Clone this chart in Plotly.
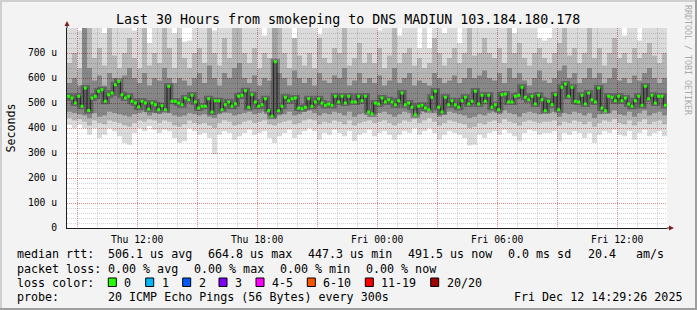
import plotly.graph_objects as go
from datetime import datetime, timedelta

W, H = 697, 310
L, R, T, B = 67, 667, 28, 228


def px(x):
    return (x - L) / (R - L)


def py(y):
    return (B - y) / (B - T)


START = datetime(2025, 12, 11, 8, 29, 26)
END = START + timedelta(hours=30)

# median rtt in microseconds, 10-minute steps (180 values)
median_us = [
    527, 520, 500, 527, 487, 560, 470, 520, 527, 547, 553, 507,
    533, 540, 573, 587, 533, 520, 527, 507, 500, 484, 507, 500,
    475, 500, 493, 473, 489, 473, 567, 507, 507, 500, 493, 520,
    513, 531, 504, 480, 487, 487, 517, 464, 509, 509, 473, 493,
    504, 487, 497, 527, 531, 549, 483, 533, 504, 487, 493, 517,
    469, 447, 665, 469, 487, 523, 509, 517, 520, 480, 477, 483,
    517, 487, 504, 517, 500, 491, 496, 491, 527, 504, 527, 500,
    527, 504, 504, 527, 509, 527, 464, 456, 500, 496, 520, 504,
    513, 504, 493, 509, 540, 493, 500, 483, 453, 487, 491, 480,
    473, 523, 547, 483, 464, 523, 493, 509, 493, 483, 509, 523,
    496, 507, 547, 496, 531, 507, 531, 483, 493, 473, 533, 536,
    504, 504, 527, 531, 563, 523, 513, 527, 496, 531, 513, 469,
    507, 493, 533, 473, 563, 576, 527, 563, 507, 504, 531, 496,
    540, 513, 504, 560, 480, 469, 527, 523, 509, 527, 509, 520,
    496, 487, 509, 527, 491, 567, 517, 531, 500, 527, 527, 491,
]

# smoke bands (microseconds), 15-minute columns (120 values each)
smoke_max = [
    800, 800, 790, 800, 800, 800, 800, 780, 800, 800, 800, 800,
    800, 790, 800, 800, 740, 800, 800, 800, 800, 780, 760, 745,
    750, 800, 800, 800, 800, 790, 800, 800, 800, 800, 800, 800,
    800, 800, 800, 770, 800, 800, 800, 800, 800, 760, 800, 800,
    800, 800, 775, 800, 800, 800, 800, 800, 800, 800, 800, 800,
    800, 800, 790, 800, 800, 800, 770, 800, 800, 800, 720, 800,
    720, 800, 800, 780, 800, 800, 740, 800, 800, 800, 800, 800,
    800, 800, 800, 800, 800, 780, 800, 800, 800, 800, 760, 750,
    760, 800, 800, 800, 800, 800, 800, 800, 800, 800, 800, 800,
    800, 800, 800, 770, 800, 800, 750, 800, 800, 800, 800, 800,
]
smoke_min = [
    413, 400, 413, 400, 373, 400, 360, 373, 400, 387, 367, 340,
    333, 380, 400, 387, 407, 393, 380, 393, 387, 360, 340, 347,
    400, 387, 373, 380, 360, 295, 373, 387, 380, 353, 367, 380,
    393, 373, 380, 387, 360, 340, 367, 380, 393, 360, 373, 387,
    400, 387, 353, 380, 373, 393, 380, 367, 387, 347, 373, 380,
    393, 367, 380, 387, 373, 353, 373, 387, 380, 400, 373, 387,
    400, 380, 353, 373, 387, 380, 373, 360, 330, 333, 373, 360,
    380, 387, 373, 393, 380, 367, 347, 380, 393, 387, 373, 380,
    380, 387, 347, 380, 373, 387, 380, 360, 380, 340, 373, 387,
    380, 393, 373, 367, 387, 353, 380, 393, 367, 380, 387, 367,
]
smoke_hi_mid = [
    660, 700, 640, 800, 800, 680, 720, 650, 800, 690, 640, 700,
    760, 680, 640, 800, 650, 700, 660, 800, 720, 640, 800, 680,
    640, 700, 720, 660, 800, 700, 650, 760, 680, 800, 800, 700,
    660, 720, 640, 700, 680, 660, 800, 700, 640, 760, 690, 650,
    700, 640, 760, 680, 660, 720, 700, 800, 650, 680, 740, 660,
    700, 660, 720, 640, 690, 800, 660, 700, 720, 650, 680, 640,
    660, 760, 700, 650, 680, 720, 660, 700, 800, 690, 700, 760,
    700, 680, 720, 660, 800, 700, 740, 680, 650, 700, 720, 680,
    660, 700, 740, 800, 690, 720, 660, 700, 800, 680, 720, 650,
    700, 760, 680, 700, 660, 720, 680, 700, 740, 690, 660, 700,
]
smoke_lo_mid = [
    440, 430, 435, 425, 410, 430, 420, 415, 430, 425, 420, 410,
    405, 420, 430, 425, 435, 430, 420, 430, 425, 410, 405, 415,
    430, 420, 415, 420, 410, 400, 420, 430, 425, 410, 415, 425,
    430, 420, 425, 430, 415, 410, 420, 425, 430, 415, 420, 430,
    435, 430, 415, 425, 420, 430, 425, 415, 430, 410, 420, 425,
    430, 420, 425, 430, 420, 410, 420, 430, 425, 435, 420, 430,
    440, 425, 410, 420, 430, 425, 420, 415, 400, 405, 420, 415,
    425, 430, 420, 435, 425, 420, 410, 425, 430, 425, 420, 425,
    425, 430, 410, 425, 420, 430, 425, 415, 425, 405, 420, 430,
    425, 435, 420, 415, 430, 410, 425, 435, 415, 425, 430, 415,
]
smoke_hi_core = [
    580, 600, 570, 800, 640, 590, 610, 570, 620, 600, 580, 610,
    640, 600, 580, 620, 570, 600, 590, 640, 600, 580, 600, 590,
    570, 600, 620, 580, 650, 600, 570, 620, 600, 640, 660, 600,
    580, 610, 570, 600, 590, 800, 620, 600, 570, 630, 600, 580,
    600, 570, 620, 590, 580, 610, 600, 640, 570, 590, 620, 580,
    600, 580, 610, 570, 590, 640, 580, 600, 620, 570, 590, 580,
    570, 620, 600, 580, 590, 610, 580, 600, 640, 600, 610, 630,
    600, 590, 620, 580, 640, 600, 620, 590, 570, 600, 630, 590,
    580, 600, 630, 650, 600, 620, 580, 600, 640, 600, 620, 580,
    600, 640, 590, 600, 580, 610, 590, 620, 640, 600, 580, 600,
]
smoke_lo_core = [
    465, 460, 455, 450, 440, 460, 445, 450, 465, 460, 455, 450,
    445, 455, 460, 465, 450, 460, 455, 465, 460, 450, 445, 450,
    460, 455, 450, 455, 445, 440, 455, 465, 460, 450, 455, 460,
    465, 455, 460, 465, 450, 440, 450, 455, 465, 450, 455, 465,
    470, 460, 450, 460, 455, 465, 460, 450, 465, 445, 455, 460,
    465, 455, 460, 465, 455, 445, 455, 465, 460, 470, 455, 465,
    470, 460, 445, 455, 465, 460, 455, 450, 440, 445, 455, 450,
    460, 465, 455, 470, 460, 455, 445, 460, 465, 460, 455, 460,
    460, 465, 445, 460, 455, 465, 460, 450, 460, 440, 455, 465,
    460, 470, 455, 450, 465, 445, 460, 470, 450, 460, 465, 450,
]

y_tickvals = [0, 100, 200, 300, 400, 500, 600, 700]
y_ticktext = ["0", "100 u", "200 u", "300 u", "400 u", "500 u", "600 u", "700 u"]
x_tickvals = ["2025-12-11 09:00", "2025-12-11 12:00", "2025-12-11 15:00",
              "2025-12-11 18:00", "2025-12-11 21:00", "2025-12-12 00:00",
              "2025-12-12 03:00", "2025-12-12 06:00", "2025-12-12 09:00",
              "2025-12-12 12:00"]
x_ticktext = ["", "Thu 12:00", "", "Thu 18:00", "", "Fri 00:00", "",
              "Fri 06:00", "", "Fri 12:00"]

loss_labels = ["0", "1", "2", "3", "4-5", "6-10", "11-19", "20/20"]
loss_colors = ["#26ff00", "#00b8ff", "#0059ff", "#7e00ff", "#ff00ff",
               "#ff5500", "#ff0000", "#a10000"]

MONO = "DejaVu Sans Mono"

col_t = [START + timedelta(minutes=15 * j) for j in range(len(smoke_max))] + [END]
med_t = [START + timedelta(minutes=10 * i) for i in range(len(median_us))] + [END]
med_c = [START + timedelta(minutes=10 * i + 5) for i in range(len(median_us))]


def ext(a):
    return list(a) + [a[-1]]


fig = go.Figure()
for lo, hi, col in [(smoke_min, smoke_max, "rgba(0,0,0,0.14)"),
                    (smoke_lo_mid, smoke_hi_mid, "rgba(0,0,0,0.17)"),
                    (smoke_lo_core, smoke_hi_core, "rgba(0,0,0,0.26)")]:
    fig.add_trace(go.Scatter(x=col_t, y=ext(lo), mode="lines",
                             line=dict(width=0, shape="hv"),
                             hoverinfo="skip", showlegend=False))
    fig.add_trace(go.Scatter(x=col_t, y=ext(hi), mode="lines",
                             line=dict(width=0, shape="hv"), fill="tonexty",
                             fillcolor=col, hoverinfo="skip", showlegend=False))

fig.add_trace(go.Scatter(x=med_t, y=ext(median_us), mode="lines",
                         line=dict(width=6, shape="hv", color="rgba(30,30,30,0.35)"),
                         hoverinfo="skip", showlegend=False))
fig.add_trace(go.Scatter(x=med_t, y=ext(median_us), mode="lines",
                         line=dict(width=1, shape="hv", color="#202020"),
                         hoverinfo="skip", showlegend=False))
fig.add_trace(go.Scatter(x=med_c, y=median_us, mode="markers",
                         marker=dict(symbol="square", size=3, color=loss_colors[0],
                                     line=dict(width=0)),
                         hoverinfo="skip", showlegend=False))

MGRID = "rgba(222,80,80,0.55)"
GRID = "rgba(143,143,143,0.38)"

fig.update_xaxes(type="date", range=[START, END], tickvals=x_tickvals,
                 ticktext=x_ticktext, showgrid=True, gridcolor=MGRID,
                 griddash="1px,1px", gridwidth=1, zeroline=False,
                 showline=True, linecolor="#1f1f1f", linewidth=1, ticks="",
                 tickfont=dict(family=MONO, size=9.7, color="#000"),
                 ticklabelstandoff=2,
                 minor=dict(dtick=3600000, tick0="2025-12-11 09:00",
                            showgrid=True, gridcolor=GRID, griddash="1px,1px",
                            gridwidth=1))
fig.update_yaxes(range=[0, 800], tickvals=y_tickvals, ticktext=y_ticktext,
                 showgrid=True, gridcolor=MGRID, griddash="1px,1px",
                 gridwidth=1, zeroline=False, showline=True,
                 linecolor="#1f1f1f", linewidth=1, ticks="",
                 tickfont=dict(family=MONO, size=9.7, color="#000"),
                 ticklabelstandoff=7,
                 minor=dict(dtick=20, tick0=0, showgrid=True, gridcolor=GRID,
                            griddash="1px,1px", gridwidth=1))

shapes = []
# frame
for (x0, y0, x1, y1, c) in [(0, 0, 697, 2, "#cfcfcf"), (0, 0, 2, 310, "#cfcfcf"),
                            (695, 0, 697, 310, "#9e9e9e"), (0, 308, 697, 310, "#9e9e9e")]:
    shapes.append(dict(type="rect", xref="paper", yref="paper",
                       x0=px(x0), x1=px(x1), y0=py(y0), y1=py(y1),
                       fillcolor=c, line=dict(width=0), layer="above"))
# axis extensions and arrows
shapes.append(dict(type="line", xref="paper", yref="paper", x0=0, x1=0,
                   y0=1, y1=py(25), line=dict(color="#1f1f1f", width=1)))
shapes.append(dict(type="line", xref="paper", yref="paper", x0=1, x1=px(670),
                   y0=0, y1=0, line=dict(color="#1f1f1f", width=1)))
shapes.append(dict(type="path", xref="paper", yref="paper",
                   path=f"M {px(64.5)} {py(26)} L {px(67)} {py(21)} L {px(69.5)} {py(26)} Z",
                   fillcolor="#7f1f1f", line=dict(width=0)))
shapes.append(dict(type="path", xref="paper", yref="paper",
                   path=f"M {px(669)} {py(225.5)} L {px(674)} {py(228)} L {px(669)} {py(230.5)} Z",
                   fillcolor="#7f1f1f", line=dict(width=0)))

ann = []


def text(x, y, s, size=11.66, color="#000", anchor="left", angle=0):
    ann.append(dict(xref="paper", yref="paper", x=px(x), y=py(y), text=s,
                    showarrow=False, xanchor=anchor, yanchor="middle",
                    textangle=angle, font=dict(family=MONO, size=size, color=color),
                    borderpad=0))


text(347.5, 19, "Last 30 Hours from smokeping to DNS MADIUN 103.184.180.178",
     size=13.3, anchor="center")
text(10.5, 128, "Seconds", anchor="center", angle=-90)
text(688, 60, "RRDTOOL / TOBI OETIKER", size=8.3, color="#aaaaaa",
     anchor="center", angle=90)

row1 = [(16, "median rtt:"), (107.3, "506.1 us avg"), (207.3, "664.8 us max"),
        (306.7, "447.3 us min"), (407.3, "491.5 us now"), (507.3, "0.0 ms sd"),
        (586.7, "20.4"), (635, "am/s")]
row2 = [(16, "packet loss:"), (107.3, "0.00 % avg"), (193.3, "0.00 % max"),
        (279.3, "0.00 % min"), (365, "0.00 % now")]
for x, s in row1:
    text(x, 254, s)
for x, s in row2:
    text(x, 268.5, s)
text(16, 282.5, "loss color:")
box_x = [108.3, 145.7, 182.7, 219, 256, 307.3, 365.3, 430.7]
for bx, lab, col in zip(box_x, loss_labels, loss_colors):
    shapes.append(dict(type="rect", xref="paper", yref="paper",
                       x0=px(bx), x1=px(bx + 8), y0=py(286.5), y1=py(278),
                       fillcolor=col, line=dict(color="#000", width=1)))
    text(bx + 14.8, 282.5, lab)
text(16, 296.7, "probe:")
text(107.3, 296.7, "20 ICMP Echo Pings (56 Bytes) every 300s")
text(513.3, 296.7, "Fri Dec 12 14:29:26 2025")

fig.update_layout(width=W, height=H, autosize=False,
                  margin=dict(l=L, r=W - R, t=T, b=H - B, pad=0),
                  paper_bgcolor="#f3f3f3", plot_bgcolor="#ffffff",
                  showlegend=False, shapes=shapes, annotations=ann,
                  font=dict(family=MONO))

fig.write_html("out.html")
